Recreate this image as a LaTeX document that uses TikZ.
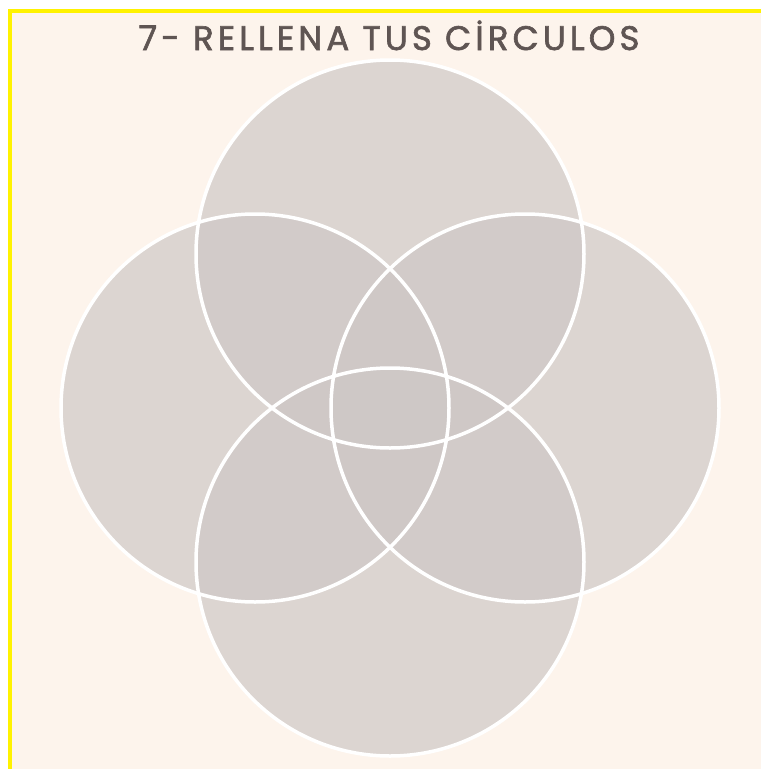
\documentclass[tikz,border=0pt]{standalone}
\usepackage{fontspec}
\newfontfamily\titlefont[LetterSpace=12,FakeBold=1.8]{Poppins}
\definecolor{cream}{RGB}{253,244,236}
\definecolor{circfill}{RGB}{206,200,198}
\definecolor{titlecol}{RGB}{95,85,83}
\begin{document}
\begin{tikzpicture}[x=1pt,y=-1pt,
  venn/.style={fill=circfill,fill opacity=0.7},
  vennline/.style={draw=white,line width=3.5pt}]
\useasboundingbox (0,0) rectangle (761,769);
\fill[white] (0,0) rectangle (761,769);
\fill[yellow] (8,9) rectangle (761,769);
\fill[cream] (12,13) rectangle (761,769);
\coordinate (ct) at (390,254);
\coordinate (cl) at (255,408);
\coordinate (cr) at (525,408);
\coordinate (cb) at (390,562);
\foreach \c in {ct,cl,cr,cb}{\fill[venn] (\c) circle (194);}
\foreach \c in {ct,cl,cr,cb}{\draw[vennline] (\c) circle (194);}
\node[text=titlecol,font=\titlefont\fontsize{34}{34}\selectfont,anchor=base] (title) at (389,50) {7- RELLENA TUS CİRCULOS};
\end{tikzpicture}
\end{document}
